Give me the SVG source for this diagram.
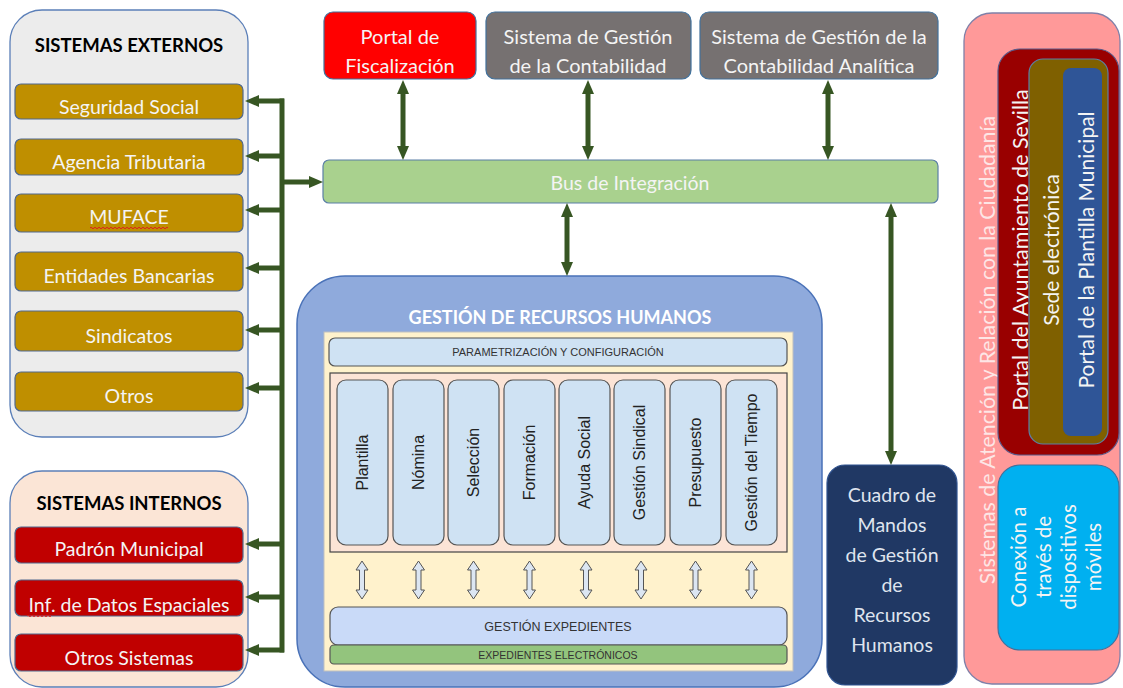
<svg xmlns="http://www.w3.org/2000/svg" width="1123" height="688" viewBox="0 0 1123 688">
<defs>
<style>
.t{font-family:Lato,"Liberation Sans",sans-serif;}
.a{font-family:"Liberation Sans",Arial,sans-serif;}
.w{fill:#f4f4f4;}
.gold{fill:#bf8f00;stroke:#50698e;stroke-width:1.2;}
.red{fill:#c00000;stroke:#50698e;stroke-width:1.2;}
.conn{stroke:#375623;stroke-width:5;fill:none;}
.mod{fill:#cfe2f3;stroke:#555;stroke-width:1.2;}
.dbl{fill:#dce6f2;stroke:#555;stroke-width:1;}
.sq{fill:none;stroke:#e02020;stroke-width:1;}
</style>
<marker id="ah" viewBox="0 0 14 12" refX="0" refY="6" markerWidth="14" markerHeight="12" markerUnits="userSpaceOnUse" orient="auto-start-reverse">
<path d="M0,0 L14,6 L0,12 z" fill="#375623"/>
</marker>
<path id="harrow" d="M0,0 L6,9 L2.5,9 L2.5,29 L6,29 L0,38 L-6,29 L-2.5,29 L-2.5,9 L-6,9 Z"/>
</defs>

<!-- Sistemas externos -->
<g id="externos">
<rect x="10" y="10" width="238" height="427" rx="32" fill="#ececec" stroke="#5b7fb8" stroke-width="1.3"/>
<text class="t" x="129" y="52" font-size="18.5" font-weight="bold" text-anchor="middle" fill="#000">SISTEMAS EXTERNOS</text>
</g>
<g id="seguridad-social"><rect class="gold" x="15" y="84" width="228" height="35" rx="6"/><text class="t w" x="129" y="114" font-size="19.5" text-anchor="middle">Seguridad Social</text></g>
<g id="agencia-tributaria"><rect class="gold" x="15" y="139" width="228" height="36" rx="6"/><text class="t w" x="129" y="169" font-size="19.5" text-anchor="middle">Agencia Tributaria</text></g>
<g id="muface"><rect class="gold" x="15" y="194" width="228" height="38" rx="6"/><text class="t w" x="129" y="224" font-size="19.5" text-anchor="middle">MUFACE</text>
<path class="sq" d="M90,228 q1,-1.6 2,0 t2,0 t2,0 t2,0 t2,0 t2,0 t2,0 t2,0 t2,0 t2,0 t2,0 t2,0 t2,0 t2,0 t2,0 t2,0 t2,0 t2,0 t2,0 t2,0 t2,0 t2,0 t2,0 t2,0 t2,0 t2,0 t2,0 t2,0 t2,0 t2,0 t2,0 t2,0 t2,0 t2,0 t2,0 t2,0 t2,0 t2,0 t2,0"/></g>
<g id="entidades-bancarias"><rect class="gold" x="15" y="252" width="228" height="39" rx="6"/><text class="t w" x="129" y="283" font-size="19.5" text-anchor="middle">Entidades Bancarias</text></g>
<g id="sindicatos"><rect class="gold" x="15" y="311" width="228" height="40" rx="6"/><text class="t w" x="129" y="343" font-size="19.5" text-anchor="middle">Sindicatos</text></g>
<g id="otros"><rect class="gold" x="15" y="372" width="228" height="39" rx="6"/><text class="t w" x="129" y="403" font-size="19.5" text-anchor="middle">Otros</text></g>

<!-- Sistemas internos -->
<g id="internos">
<rect x="10" y="471" width="238" height="216" rx="32" fill="#fbe5d6" stroke="#5b7fb8" stroke-width="1.3"/>
<text class="t" x="129" y="510" font-size="18.5" font-weight="bold" text-anchor="middle" fill="#000">SISTEMAS INTERNOS</text>
</g>
<g id="padron"><rect class="red" x="15" y="527" width="228" height="36" rx="6"/><text class="t w" x="129" y="556" font-size="19.5" text-anchor="middle">Padrón Municipal</text></g>
<g id="datos-espaciales"><rect class="red" x="15" y="580" width="228" height="36" rx="6"/><text class="t w" x="129" y="612" font-size="19.5" text-anchor="middle">Inf. de Datos Espaciales</text>
<path class="sq" d="M27,616 q1,-1.4 2,0 t2,0 t2,0 t2,0 t2,0 t2,0 t2,0 t2,0 t2,0 t2,0 t2,0 t2,0"/></g>
<g id="otros-sistemas"><rect class="red" x="15" y="634" width="228" height="37" rx="6"/><text class="t w" x="129" y="665" font-size="19.5" text-anchor="middle">Otros Sistemas</text></g>

<!-- Top systems -->
<g id="portal-fiscalizacion"><rect x="324" y="12" width="152" height="67" rx="9" fill="#ff0000" stroke="#41719c" stroke-width="1.2"/>
<text class="t w" x="400" y="44" font-size="20" text-anchor="middle">Portal de</text><text class="t w" x="400" y="73" font-size="20" text-anchor="middle">Fiscalización</text></g>
<g id="contabilidad"><rect x="486" y="12" width="205" height="67" rx="9" fill="#767171" stroke="#41719c" stroke-width="1.2"/>
<text class="t w" x="588" y="44" font-size="20" text-anchor="middle">Sistema de Gestión</text><text class="t w" x="588" y="73" font-size="20" text-anchor="middle">de la Contabilidad</text></g>
<g id="contabilidad-analitica"><rect x="700" y="12" width="238" height="67" rx="9" fill="#767171" stroke="#41719c" stroke-width="1.2"/>
<text class="t w" x="819" y="44" font-size="20" text-anchor="middle">Sistema de Gestión de la</text><text class="t w" x="819" y="73" font-size="20" text-anchor="middle">Contabilidad Analítica</text></g>

<g id="bus"><rect x="323" y="160" width="615" height="43" rx="6" fill="#a9d18e" stroke="#5b7fa6" stroke-width="1.2"/>
<text class="t" x="630" y="190" font-size="19.5" text-anchor="middle" fill="#f4f4f4">Bus de Integración</text></g>

<!-- GRH -->
<g id="grh">
<rect x="297" y="276" width="525" height="411" rx="48" fill="#8faadc" stroke="#4a72b8" stroke-width="1.5"/>
<text class="t" x="560" y="324" font-size="18" font-weight="bold" text-anchor="middle" fill="#ffffff">GESTIÓN DE RECURSOS HUMANOS</text>
<rect x="324" y="332" width="469" height="339" fill="#fff2cc" stroke="#bfbfbf" stroke-width="1"/>
</g>
<g id="parametrizacion"><rect x="329" y="338" width="458" height="28" rx="6" fill="#cfe2f3" stroke="#555" stroke-width="1.2"/>
<text class="a" x="558" y="356" font-size="11" text-anchor="middle" fill="#333">PARAMETRIZACIÓN Y CONFIGURACIÓN</text></g>
<g id="modulos"><rect x="330" y="373" width="457" height="179" fill="#fce4d6" stroke="#444" stroke-width="1.2"/></g>
<g id="plantilla"><rect class="mod" x="337" y="380" width="51" height="165" rx="9"/><text class="a" transform="translate(362.5,462.5) rotate(-90)" font-size="16" text-anchor="middle" dominant-baseline="central" fill="#222">Plantilla</text></g>
<g id="nomina"><rect class="mod" x="393" y="380" width="51" height="165" rx="9"/><text class="a" transform="translate(418.5,462.5) rotate(-90)" font-size="16" text-anchor="middle" dominant-baseline="central" fill="#222">Nómina</text></g>
<g id="seleccion"><rect class="mod" x="448" y="380" width="51" height="165" rx="9"/><text class="a" transform="translate(473.5,462.5) rotate(-90)" font-size="16" text-anchor="middle" dominant-baseline="central" fill="#222">Selección</text></g>
<g id="formacion"><rect class="mod" x="504" y="380" width="51" height="165" rx="9"/><text class="a" transform="translate(529.5,462.5) rotate(-90)" font-size="16" text-anchor="middle" dominant-baseline="central" fill="#222">Formación</text></g>
<g id="ayuda-social"><rect class="mod" x="559" y="380" width="51" height="165" rx="9"/><text class="a" transform="translate(584.5,462.5) rotate(-90)" font-size="16" text-anchor="middle" dominant-baseline="central" fill="#222">Ayuda Social</text></g>
<g id="gestion-sindical"><rect class="mod" x="614" y="380" width="51" height="165" rx="9"/><text class="a" transform="translate(639.5,462.5) rotate(-90)" font-size="16" text-anchor="middle" dominant-baseline="central" fill="#222">Gestión Sindical</text></g>
<g id="presupuesto"><rect class="mod" x="670" y="380" width="51" height="165" rx="9"/><text class="a" transform="translate(695.5,462.5) rotate(-90)" font-size="16" text-anchor="middle" dominant-baseline="central" fill="#222">Presupuesto</text></g>
<g id="gestion-tiempo"><rect class="mod" x="726" y="380" width="51" height="165" rx="9"/><text class="a" transform="translate(751.5,462.5) rotate(-90)" font-size="16" text-anchor="middle" dominant-baseline="central" fill="#222">Gestión del Tiempo</text></g>
<g id="gestion-expedientes"><rect x="330" y="607" width="457" height="38" rx="8" fill="#c9daf8" stroke="#555" stroke-width="1.2"/>
<text class="a" x="558" y="631" font-size="12.5" text-anchor="middle" fill="#333">GESTIÓN EXPEDIENTES</text></g>
<g id="expedientes-electronicos"><rect x="330" y="645" width="457" height="19" rx="4" fill="#93c47d" stroke="#555" stroke-width="1.2"/>
<text class="a" x="558" y="659" font-size="10.5" text-anchor="middle" fill="#333">EXPEDIENTES ELECTRÓNICOS</text></g>

<!-- Cuadro de mandos -->
<g id="cuadro-mandos"><rect x="827" y="465" width="130" height="220" rx="18" fill="#203864" stroke="#2f528f" stroke-width="1.2"/>
<g class="t" font-size="19.5" text-anchor="middle" fill="#dfe4ee">
<text x="892" y="502">Cuadro de</text><text x="892" y="532">Mandos</text><text x="892" y="562">de Gestión</text><text x="892" y="592">de</text><text x="892" y="622">Recursos</text><text x="892" y="652">Humanos</text>
</g></g>

<!-- Right panel -->
<g id="atencion-ciudadania"><rect x="964" y="13" width="156" height="671" rx="28" fill="#ff9999" stroke="#8080a8" stroke-width="1.3"/>
<text class="t" transform="translate(987,350) rotate(-90)" font-size="21.3" text-anchor="middle" dominant-baseline="central" fill="#fde6e6">Sistemas de Atención y Relación con la Ciudadanía</text></g>
<g id="portal-ayuntamiento"><rect x="998" y="49" width="121" height="406" rx="22" fill="#990000" stroke="#5a5a8a" stroke-width="1.2"/>
<text class="t w" transform="translate(1020,250) rotate(-90)" font-size="21.5" text-anchor="middle" dominant-baseline="central">Portal del Ayuntamiento de Sevilla</text></g>
<g id="sede-electronica"><rect x="1029" y="59" width="79" height="385" rx="14" fill="#7f6000" stroke="#5b7fa6" stroke-width="1.2"/>
<text class="t w" transform="translate(1050,250) rotate(-90)" font-size="21" text-anchor="middle" dominant-baseline="central">Sede electrónica</text></g>
<g id="portal-plantilla"><rect x="1063" y="68" width="39" height="368" rx="8" fill="#2f5597"/>
<text class="t w" transform="translate(1085,250) rotate(-90)" font-size="21" text-anchor="middle" dominant-baseline="central">Portal de la Plantilla Municipal</text></g>
<g id="dispositivos-moviles"><rect x="998" y="465" width="121" height="185" rx="22" fill="#00b0f0" stroke="#41719c" stroke-width="1.2"/>
<g class="t w" font-size="20.5" text-anchor="middle" dominant-baseline="central">
<text transform="translate(1018,557) rotate(-90)">Conexión a</text>
<text transform="translate(1043,557) rotate(-90)">través de</text>
<text transform="translate(1068,557) rotate(-90)">dispositivos</text>
<text transform="translate(1093,557) rotate(-90)">móviles</text>
</g></g>

<!-- Connectors -->
<g id="connectors">
<path class="conn" d="M282,98.5 V652.5"/>
<path class="conn" d="M284,101 H259" marker-end="url(#ah)"/>
<path class="conn" d="M284,156 H259" marker-end="url(#ah)"/>
<path class="conn" d="M284,210 H259" marker-end="url(#ah)"/>
<path class="conn" d="M284,268 H259" marker-end="url(#ah)"/>
<path class="conn" d="M284,330 H259" marker-end="url(#ah)"/>
<path class="conn" d="M284,388 H259" marker-end="url(#ah)"/>
<path class="conn" d="M284,544 H259" marker-end="url(#ah)"/>
<path class="conn" d="M284,597 H259" marker-end="url(#ah)"/>
<path class="conn" d="M284,650 H259" marker-end="url(#ah)"/>
<path class="conn" d="M280,182 H309" marker-end="url(#ah)"/>
<path class="conn" d="M403,94 V146" marker-start="url(#ah)" marker-end="url(#ah)"/>
<path class="conn" d="M588,94 V146" marker-start="url(#ah)" marker-end="url(#ah)"/>
<path class="conn" d="M828,94 V146" marker-start="url(#ah)" marker-end="url(#ah)"/>
<path class="conn" d="M567,217 V262" marker-start="url(#ah)" marker-end="url(#ah)"/>
<path class="conn" d="M891,217 V451" marker-start="url(#ah)" marker-end="url(#ah)"/>
<g class="dbl">
<use href="#harrow" x="362" y="561"/>
<use href="#harrow" x="418.5" y="561"/>
<use href="#harrow" x="473.5" y="561"/>
<use href="#harrow" x="529.5" y="561"/>
<use href="#harrow" x="586" y="561"/>
<use href="#harrow" x="641" y="561"/>
<use href="#harrow" x="695.5" y="561"/>
<use href="#harrow" x="751.5" y="561"/>
</g>
</g>
</svg>
